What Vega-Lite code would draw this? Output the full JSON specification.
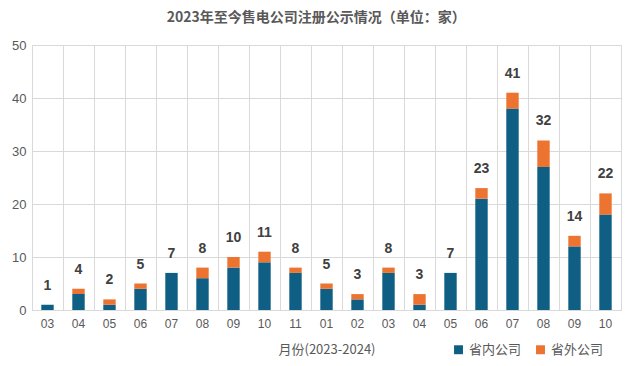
{
  "$schema": "https://vega.github.io/schema/vega-lite/v6.json",
  "autosize": "none",
  "width": 589,
  "height": 265,
  "padding": {"left": 32, "top": 45, "right": 6, "bottom": 56},
  "background": "white",
  "config": {
    "view": {"stroke": "#d9d9d9"},
    "font": "Liberation Sans"
  },
  "title": {
    "text": "2023年至今售电公司注册公示情况（单位：家）",
    "font": "Noto Sans CJK SC",
    "fontSize": 14,
    "fontWeight": "bold",
    "color": "#595959",
    "anchor": "middle",
    "frame": "bounds",
    "offset": 14
  },
  "data": {
    "values": [
      {"key": "2023-03", "type": "省内公司", "count": 1},
      {"key": "2023-03", "type": "省外公司", "count": 0},
      {"key": "2023-04", "type": "省内公司", "count": 3},
      {"key": "2023-04", "type": "省外公司", "count": 1},
      {"key": "2023-05", "type": "省内公司", "count": 1},
      {"key": "2023-05", "type": "省外公司", "count": 1},
      {"key": "2023-06", "type": "省内公司", "count": 4},
      {"key": "2023-06", "type": "省外公司", "count": 1},
      {"key": "2023-07", "type": "省内公司", "count": 7},
      {"key": "2023-07", "type": "省外公司", "count": 0},
      {"key": "2023-08", "type": "省内公司", "count": 6},
      {"key": "2023-08", "type": "省外公司", "count": 2},
      {"key": "2023-09", "type": "省内公司", "count": 8},
      {"key": "2023-09", "type": "省外公司", "count": 2},
      {"key": "2023-10", "type": "省内公司", "count": 9},
      {"key": "2023-10", "type": "省外公司", "count": 2},
      {"key": "2023-11", "type": "省内公司", "count": 7},
      {"key": "2023-11", "type": "省外公司", "count": 1},
      {"key": "2024-01", "type": "省内公司", "count": 4},
      {"key": "2024-01", "type": "省外公司", "count": 1},
      {"key": "2024-02", "type": "省内公司", "count": 2},
      {"key": "2024-02", "type": "省外公司", "count": 1},
      {"key": "2024-03", "type": "省内公司", "count": 7},
      {"key": "2024-03", "type": "省外公司", "count": 1},
      {"key": "2024-04", "type": "省内公司", "count": 1},
      {"key": "2024-04", "type": "省外公司", "count": 2},
      {"key": "2024-05", "type": "省内公司", "count": 7},
      {"key": "2024-05", "type": "省外公司", "count": 0},
      {"key": "2024-06", "type": "省内公司", "count": 21},
      {"key": "2024-06", "type": "省外公司", "count": 2},
      {"key": "2024-07", "type": "省内公司", "count": 38},
      {"key": "2024-07", "type": "省外公司", "count": 3},
      {"key": "2024-08", "type": "省内公司", "count": 27},
      {"key": "2024-08", "type": "省外公司", "count": 5},
      {"key": "2024-09", "type": "省内公司", "count": 12},
      {"key": "2024-09", "type": "省外公司", "count": 2},
      {"key": "2024-10", "type": "省内公司", "count": 18},
      {"key": "2024-10", "type": "省外公司", "count": 4}
    ]
  },
  "encoding": {
    "x": {
      "field": "key",
      "type": "nominal",
      "scale": {"paddingInner": 0, "paddingOuter": 0},
      "axis": {
        "title": "月份(2023-2024)",
        "titleFont": "Noto Sans CJK SC",
        "titleFontSize": 13,
        "titleFontWeight": "normal",
        "titleColor": "#595959",
        "titlePadding": 14,
        "labelExpr": "substring(datum.label, 5)",
        "labelAngle": 0,
        "labelFontSize": 12,
        "labelColor": "#595959",
        "labelPadding": 8,
        "ticks": false,
        "domainColor": "#d9d9d9",
        "grid": true,
        "gridColor": "#d9d9d9",
        "bandPosition": 0
      }
    }
  },
  "layer": [
    {
      "mark": {"type": "bar", "width": {"band": 0.4}},
      "encoding": {
        "y": {
          "field": "count",
          "type": "quantitative",
          "aggregate": "sum",
          "stack": "zero",
          "scale": {"domain": [0, 50]},
          "axis": {
            "title": null,
            "values": [0, 10, 20, 30, 40, 50],
            "labelFontSize": 13,
            "labelColor": "#595959",
            "labelPadding": 6,
            "ticks": false,
            "domain": false,
            "gridColor": "#d9d9d9"
          }
        },
        "order": {"field": "type", "sort": "ascending"},
        "color": {
          "field": "type",
          "type": "nominal",
          "scale": {"domain": ["省内公司", "省外公司"], "range": ["#0f5f84", "#ec7430"]},
          "legend": {
            "title": null,
            "orient": "none",
            "direction": "horizontal",
            "legendX": 420,
            "legendY": 298,
            "symbolType": "square",
            "symbolSize": 80,
            "labelFont": "Noto Sans CJK SC",
            "labelFontSize": 13,
            "labelColor": "#595959",
            "columnPadding": 12
          }
        }
      }
    },
    {
      "transform": [
        {"aggregate": [{"op": "sum", "field": "count", "as": "total"}], "groupby": ["key"]}
      ],
      "mark": {"type": "text", "baseline": "bottom", "dy": -12, "fontSize": 14, "fontWeight": "bold", "color": "#404040"},
      "encoding": {
        "y": {"field": "total", "type": "quantitative"},
        "text": {"field": "total", "type": "quantitative"}
      }
    }
  ]
}
